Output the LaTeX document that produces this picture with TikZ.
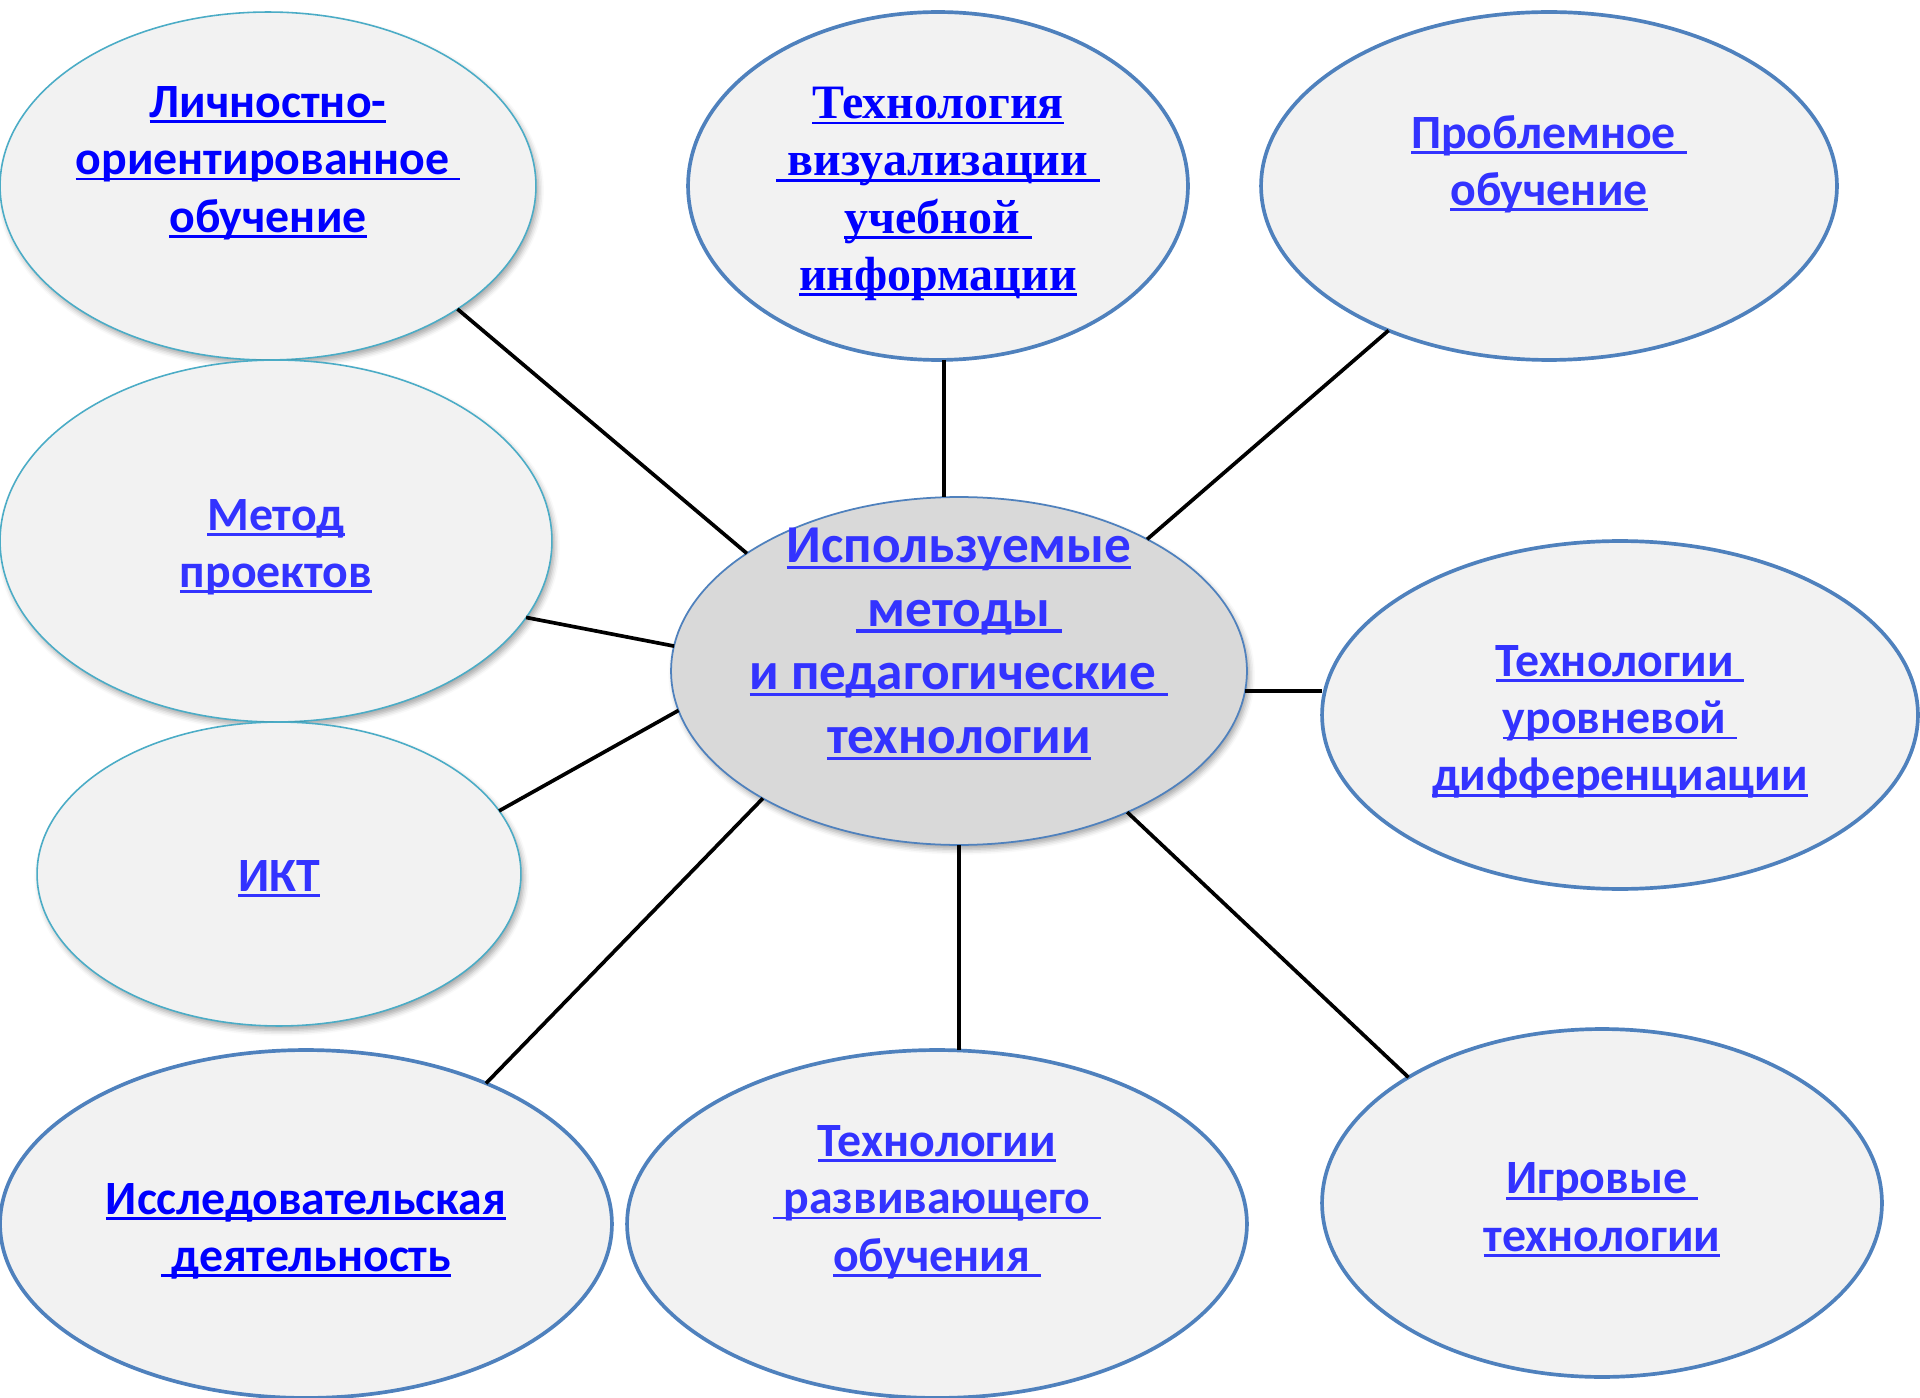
\documentclass[tikz,border=0pt]{standalone}
\usepackage{fontspec}
\setmainfont{Carlito}
\newfontfamily\tnrfont{Liberation Serif}
\usetikzlibrary{shapes.geometric,shadows.blur}
\definecolor{blueA}{HTML}{0000FF}
\definecolor{blueB}{HTML}{3333FF}
\definecolor{bord}{HTML}{4F81BD}
\definecolor{tealb}{HTML}{4BACC6}
\definecolor{fillg}{HTML}{F2F2F2}
\definecolor{centg}{HTML}{D9D9D9}
\newsavebox\ulbox
\newcommand\ulx[1]{\sbox\ulbox{#1}\rlap{\rule[-0.12em]{\wd\ulbox}{0.06em}}\usebox\ulbox}
\begin{document}
\begin{tikzpicture}[x=0.02cm,y=-0.02cm,
  bub/.style={ellipse, draw=bord, line width=2.1pt, fill=fillg, inner sep=0pt, outer sep=0pt},
  tbub/.style={ellipse, draw=tealb, line width=0.9pt, fill=fillg, inner sep=0pt, outer sep=0pt,
    blur shadow={shadow xshift=1.5pt, shadow yshift=-2.5pt, shadow blur radius=3pt, shadow opacity=35}},
  cbub/.style={ellipse, draw=bord, line width=1pt, fill=centg, inner sep=0pt, outer sep=0pt,
    blur shadow={shadow xshift=1.5pt, shadow yshift=-2.5pt, shadow blur radius=3pt, shadow opacity=35}},
  lbl/.style={align=center, inner sep=0pt, font=\bfseries\fontsize{27.2}{32.6}\selectfont, text=blueB},
  lblA/.style={lbl, text=blueA},
  lblT/.style={lbl, text=blueA, font=\tnrfont\bfseries\fontsize{27.3}{32.6}\selectfont},
  lblC/.style={lbl, font=\bfseries\fontsize{30.3}{36.3}\selectfont},
  conn/.style={line width=2.1pt, draw=black}]
\useasboundingbox (0,0) rectangle (1920,1398);

% ellipses
\node[tbub, minimum width=10.72cm, minimum height=6.96cm] (e1) at (268,186) {};
\node[bub,  minimum width=10.0cm,  minimum height=6.96cm] (e2) at (938,186) {};
\node[bub,  minimum width=11.52cm, minimum height=6.96cm] (e3) at (1549,186) {};
\node[tbub, minimum width=11.04cm, minimum height=7.24cm] (e4) at (276,541) {};
\node[tbub, minimum width=9.68cm,  minimum height=6.08cm] (e5) at (279,874) {};
\node[cbub, minimum width=11.52cm, minimum height=6.96cm] (c)  at (959,671) {};
\node[bub,  minimum width=11.92cm, minimum height=6.96cm] (e7) at (1620,715) {};
\node[bub,  minimum width=12.24cm, minimum height=6.96cm] (e8) at (306,1224) {};
\node[bub,  minimum width=12.4cm,  minimum height=6.96cm] (e9) at (937,1224) {};
\node[bub,  minimum width=11.2cm,  minimum height=6.96cm] (e10) at (1602,1203) {};

% labels
\node[lblA] (t1) at (268,163) {\ulx{Личностно-}\\\ulx{ориентированное\ }\\\ulx{обучение}};
\node[lblT] (t2) at (938,194) {\ulx{Технология}\\\ulx{\ визуализации\ }\\\ulx{учебной\ }\\\ulx{информации}};
\node[lbl] (t3) at (1549,164) {\ulx{Проблемное\ }\\\ulx{обучение}};
\node[lbl] (t4) at (276,547) {\ulx{Метод}\\\ulx{проектов}};
\node[lbl] (t5) at (279,879) {\ulx{ИКТ}};
\node[lblC] (tc) at (959,644) {\ulx{Используемые}\\\ulx{\ методы\ }\\\ulx{и педагогические\ }\\\ulx{технологии}};
\node[lbl] (t7) at (1620,722) {\ulx{Технологии\ }\\\ulx{уровневой\ }\\\ulx{дифференциации}};
\node[lblA] (t8) at (306,1231) {\ulx{Исследовательская}\\\ulx{\ деятельность}};
\node[lbl] (t9) at (937,1202) {\ulx{Технологии}\\\ulx{\ развивающего\ }\\\ulx{обучения\ }};
\node[lbl] (t10) at (1602,1210) {\ulx{Игровые\ }\\\ulx{технологии}};

% connectors
\draw[conn] (e1.-33.8) -- (c.151.5);
\draw[conn] (e2.-88) -- (e2.-88 |- c.north);
\draw[conn] (e3.-138.7) -- (c.35.7);
\draw[conn] (e4.-17.1) -- (c.175.2);
\draw[conn] (e5.16) -- (c.-172.2);
\draw[conn] (c.-4.5) -- (c.-4.5 -| e7.west);
\draw[conn] (c.-147.1) -- (e8.38.9);
\draw[conn] (c.south) -- (c.south |- e9.north);
\draw[conn] (c.-40.4) -- (e10.147.9);
\end{tikzpicture}
\end{document}
